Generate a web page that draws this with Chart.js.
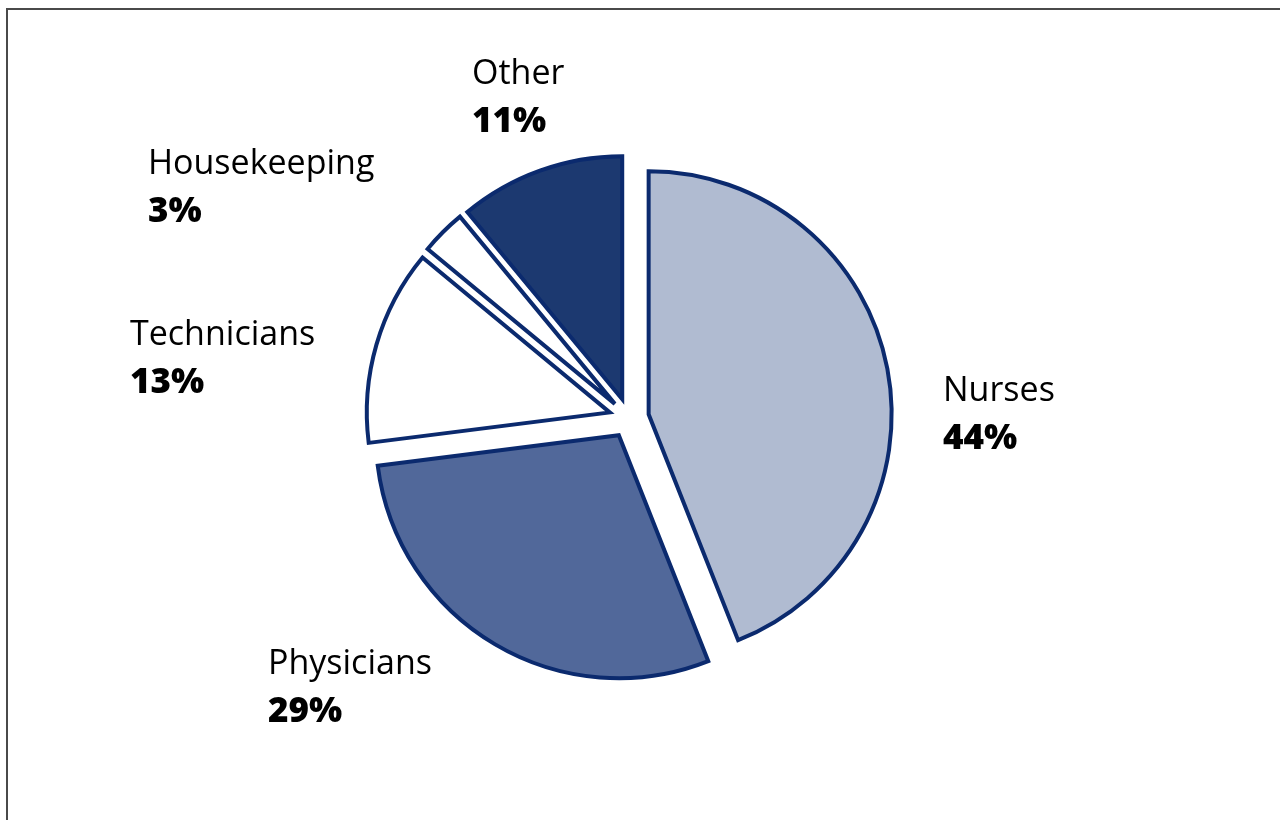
<!DOCTYPE html>
<html>
<head>
<meta charset="utf-8">
<title>Staff mix</title>
<script src="https://cdn.jsdelivr.net/npm/chart.js@4/dist/chart.umd.min.js"></script>
<style>
  html, body { margin: 0; padding: 0; background: #ffffff; }
  #wrap { position: relative; width: 1280px; height: 820px; overflow: hidden; }
  #frame {
    position: absolute; left: 6px; top: 8px; right: -10px; bottom: -10px;
    border-top: 2px solid #4a4a4a; border-left: 2px solid #4a4a4a;
    pointer-events: none;
  }
  canvas { position: absolute; left: 0; top: 0; }
</style>
</head>
<body>
<div id="wrap">
  <canvas id="pie"></canvas>
  <div id="frame"></div>
</div>
<script>
// Staff categories, clockwise from 12 o'clock
const categories = ['Nurses', 'Physicians', 'Technicians', 'Housekeeping', 'Other'];
const shares = [44, 29, 13, 3, 11];
const valueLabels = ['44%', '29%', '13%', '3%', '11%'];

const sliceColors = ['#b0bbd1', '#51689a', '#ffffff', '#ffffff', '#1c3970'];
const outline = '#0b2a6e';

// Where each caption sits, relative to the pie centre (left edge, first baseline)
const captionOffsets = [[314, -17], [-361, 256], [-499, -73], [-481, -244], [-157, -334]];
const EXPLODE = 20;

// Pulls every slice outward along its bisector
const explodePlugin = {
  id: 'explode',
  afterDatasetUpdate(chart, args) {
    args.meta.data.forEach(arc => {
      const mid = (arc.startAngle + arc.endAngle) / 2;
      arc.x += Math.cos(mid) * EXPLODE;
      arc.y += Math.sin(mid) * EXPLODE;
    });
  }
};

// Category name plus bold share next to each slice
const captionPlugin = {
  id: 'captions',
  afterDraw(chart) {
    const { ctx } = chart;
    const area = chart.chartArea;
    const cx = (area.left + area.right) / 2;
    const cy = (area.top + area.bottom) / 2;
    ctx.save();
    ctx.fillStyle = '#000000';
    ctx.textAlign = 'left';
    ctx.textBaseline = 'alphabetic';
    categories.forEach((name, i) => {
      const [dx, dy] = captionOffsets[i];
      ctx.font = '34px "Open Sans", "Noto Sans", sans-serif';
      ctx.fillText(name, cx + dx, cy + dy);
      ctx.font = '800 35px "Open Sans", "Noto Sans", sans-serif';
      ctx.fillText(valueLabels[i], cx + dx, cy + dy + 48);
    });
    ctx.restore();
  }
};

new Chart(document.getElementById('pie'), {
  type: 'pie',
  data: {
    labels: categories,
    datasets: [{
      data: shares,
      backgroundColor: sliceColors,
      borderColor: outline,
      borderWidth: 4,
      borderJoinStyle: 'miter',
      radius: 243
    }]
  },
  options: {
    responsive: true,
    maintainAspectRatio: false,
    animation: false,
    layout: { padding: { left: 0, right: 22, top: 16, bottom: 0 } },
    plugins: {
      legend: { display: false },
      tooltip: { enabled: false }
    }
  },
  plugins: [explodePlugin, captionPlugin]
});
</script>
</body>
</html>
